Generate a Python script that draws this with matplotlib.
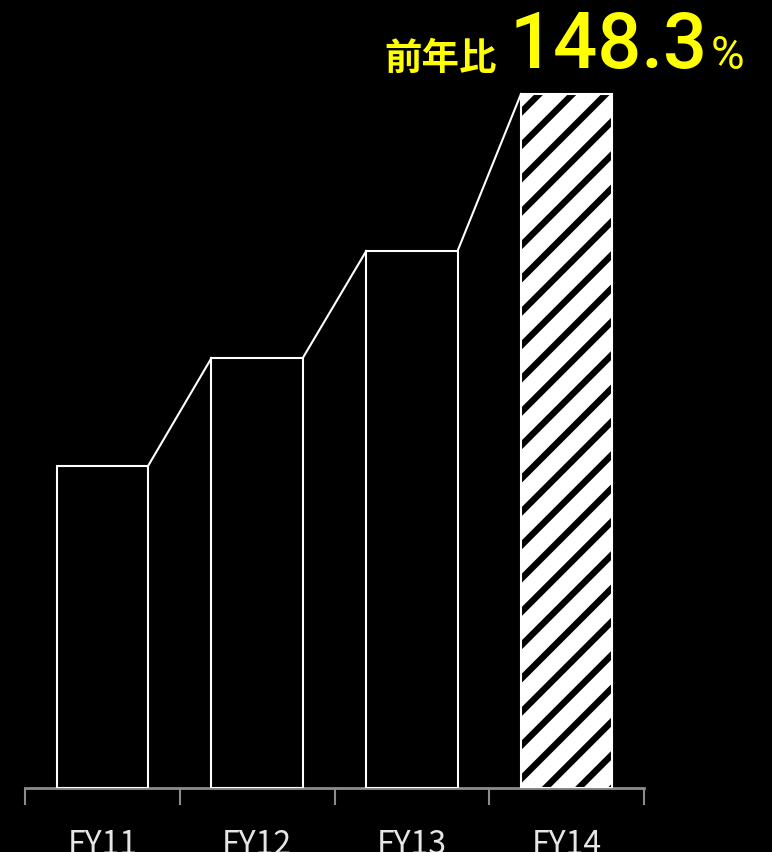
import matplotlib.pyplot as plt

plt.rcParams['font.family'] = ['Noto Sans CJK JP', 'DejaVu Sans']
plt.rcParams['hatch.linewidth'] = 4.6

years = ["FY11", "FY12", "FY13", "FY14"]
sales = [322, 430, 537, 694]
growth_label = "148.3"

fig = plt.figure(figsize=(7.72, 8.53), dpi=100, facecolor='black')
ax = fig.add_axes([25 / 772, 64 / 853, 619 / 772, 789 / 853])
ax.set_facecolor('black')

x = list(range(len(years)))
width = 0.59
ax.bar(x[:-1], sales[:-1], width=width, color='black', edgecolor='white', linewidth=1.5, zorder=3)
# hatched fill for the latest year, outline drawn over it
ax.bar(x[-1], sales[-1], width=width, facecolor='white', edgecolor='black',
       linewidth=0, hatch='/', zorder=4)
ax.bar(x[-1], sales[-1], width=width, fill=False, edgecolor='white', linewidth=1.5, zorder=5)

# step lines from each bar top to the next
for i in range(len(sales) - 1):
    ax.plot([i + width / 2, i + 1 - width / 2], [sales[i], sales[i + 1]],
            color='white', linewidth=1.5, zorder=3)

ax.set_xlim(-0.5, len(years) - 0.5)
ax.set_ylim(0, 789)
ax.set_yticks([])
ax.set_xticks([i - 0.5 for i in range(len(years) + 1)])
ax.set_xticklabels([])
ax.set_xticks(x, minor=True)
ax.set_xticklabels(years, minor=True)
ax.tick_params(axis='x', which='major', length=12, width=1.5, color='#8c8c8c', direction='out')
ax.tick_params(axis='x', which='minor', length=0, pad=29, labelsize=23, labelcolor='#e6e6e6')

for s in ['top', 'right', 'left']:
    ax.spines[s].set_visible(False)
ax.spines['bottom'].set_color('#8c8c8c')
ax.spines['bottom'].set_linewidth(2)

fig.text(384 / 772, 1 - 70 / 853, "前年比", color='#ffff00', fontsize=27,
         fontweight='bold', ha='left', va='baseline')
fig.text(510 / 772, 1 - 68 / 853, growth_label, color='#ffff00', fontsize=56,
         fontweight='medium', ha='left', va='baseline', family='Roboto')
fig.text(711 / 772, 1 - 69 / 853, "%", color='#ffff00', fontsize=33,
         ha='left', va='baseline', family='Roboto')

fig.savefig("out.png", dpi=100, facecolor='black')
